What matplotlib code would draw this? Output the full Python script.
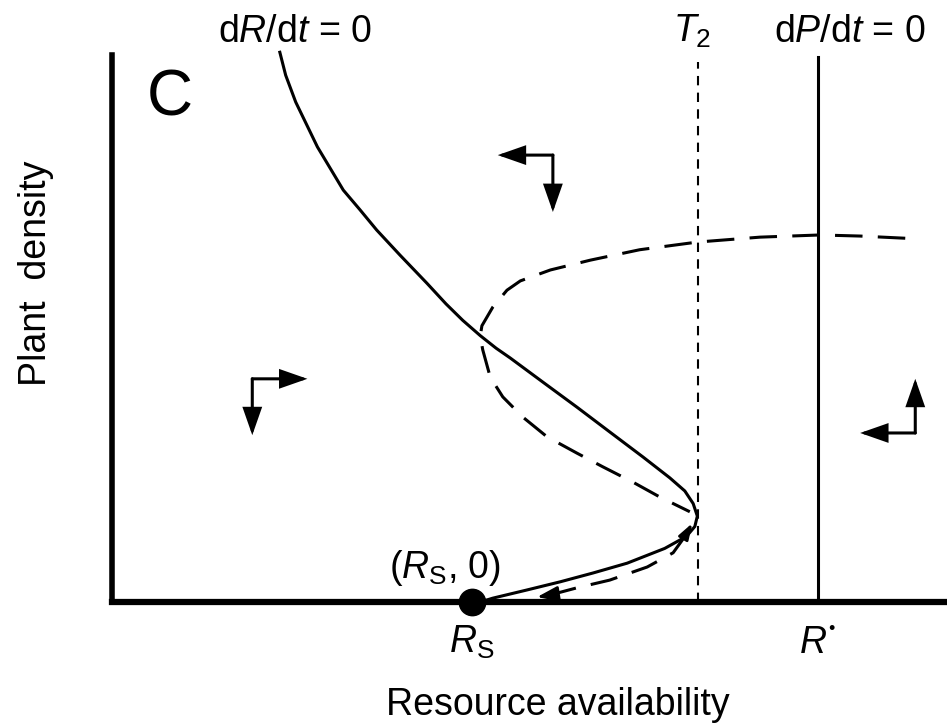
import matplotlib
matplotlib.use("Agg")
import matplotlib.pyplot as plt

plt.rcParams['font.family'] = ['Liberation Sans', 'DejaVu Sans']
plt.rcParams['mathtext.fontset'] = 'custom'
plt.rcParams['mathtext.rm'] = 'Liberation Sans'
plt.rcParams['mathtext.it'] = 'Liberation Sans:italic'

# dR/dt = 0 isocline (solid S-curve), resource vs plant density
isoR_x = [2.01, 2.08, 2.20, 2.46, 2.77, 2.97, 3.17, 3.45, 3.77, 4.00, 4.20, 4.41,
          4.60, 4.77, 5.16, 5.57, 5.96, 6.36, 6.68, 6.86, 6.96, 7.01, 6.98, 6.88,
          6.62, 6.17, 5.76, 5.37, 4.97, 4.56, 4.41]
isoR_y = [10.05, 9.63, 9.14, 8.32, 7.53, 7.17, 6.80, 6.34, 5.83, 5.45, 5.15, 4.87,
          4.64, 4.46, 4.02, 3.56, 3.11, 2.65, 2.27, 2.03, 1.80, 1.57, 1.38, 1.20,
          0.98, 0.71, 0.53, 0.37, 0.22, 0.07, 0.0]

# dashed trajectory
traj_x = [9.50, 8.96, 8.48, 7.76, 7.01, 6.32, 5.73, 5.25, 4.89, 4.73, 4.56, 4.43,
          4.41, 4.44, 4.53, 4.68, 4.92, 5.21, 5.57, 5.88, 6.24, 6.56, 6.92]
traj_y = [6.65, 6.69, 6.71, 6.67, 6.58, 6.44, 6.25, 6.07, 5.87, 5.70, 5.39, 5.05,
          4.86, 4.61, 4.11, 3.75, 3.38, 3.02, 2.72, 2.47, 2.19, 1.92, 1.65]

# lower dashed branch running back to Rs
low_x = [6.89, 6.72, 6.41, 5.96, 5.57, 5.25]
low_y = [1.26, 0.90, 0.64, 0.40, 0.26, 0.13]

Rs = 4.31
T2 = 7.02
R_star = 8.455

# direction arrows: corner, horizontal tip, vertical tip
arrow_corner = [(5.28, 8.17), (1.68, 4.08), (9.62, 3.09)]
arrow_htip = [4.62, 2.34, 8.96]
arrow_vtip = [7.13, 3.05, 4.08]

fig = plt.figure(figsize=(9.47, 7.25), dpi=100)
ax = fig.add_axes([112/947, 123/725, 835/947, 547/725])
ax.set_xlim(0, 10)
ax.set_ylim(0, 10)
for s in ['top', 'right']:
    ax.spines[s].set_visible(False)
ax.spines['left'].set_linewidth(4)
ax.spines['bottom'].set_linewidth(4.5)
ax.set_xticks([])
ax.set_yticks([])

ax.plot(isoR_x, isoR_y, color='black', lw=2.2, clip_on=False, zorder=3,
        solid_joinstyle='round')
ax.plot(traj_x, traj_y, color='black', lw=2.2, dashes=(9, 5), zorder=3)
ax.plot(low_x, low_y, color='black', lw=2.2, dashes=(9, 5), zorder=3)

# arrowheads on trajectories
ax.annotate('', xy=(5.09, 0.09), xytext=(5.30, 0.14),
            arrowprops=dict(arrowstyle='-|>,head_length=0.7,head_width=0.25', lw=2.0,
                            color='black', mutation_scale=18, shrinkA=0, shrinkB=0))
ax.annotate('', xy=(6.95, 1.44), xytext=(6.88, 1.26),
            arrowprops=dict(arrowstyle='-|>,head_length=0.6,head_width=0.2', lw=2.0,
                            color='black', mutation_scale=16, shrinkA=0, shrinkB=0))

ax.plot([T2, T2], [0, 9.87], color='black', lw=1.5, dashes=(4.5, 3.5), clip_on=False)
ax.plot([R_star, R_star], [0, 9.96], color='black', lw=2.2, clip_on=False)

ax.plot([Rs], [0], 'o', color='black', markersize=19, clip_on=False, zorder=5)

for (cx, cy), hx, vy in zip(arrow_corner, arrow_htip, arrow_vtip):
    style = dict(arrowstyle='-|>,head_length=0.8,head_width=0.28', lw=2.2,
                 color='black', mutation_scale=20, shrinkA=0, shrinkB=0,
                 joinstyle='miter')
    ax.annotate('', xy=(hx, cy), xytext=(cx, cy), arrowprops=style)
    ax.annotate('', xy=(cx, vy), xytext=(cx, cy), arrowprops=style)

fs = 27
ax.text(2.19, 10.24, r'd$R$/d$t$ = 0', fontsize=fs, ha='center', va='baseline')
ax.text(6.95, 10.24, r'$T_2$', fontsize=fs, ha='center', va='baseline')
ax.text(8.84, 10.24, r'd$P$/d$t$ = 0', fontsize=fs, ha='center', va='baseline')
ax.text(0.42, 8.90, 'C', fontsize=46, ha='left', va='baseline')
ax.text(3.99, 0.44, r'($R_\mathrm{S}$, 0)', fontsize=fs, ha='center', va='baseline')
ax.text(Rs, -0.93, r'$R_\mathrm{S}$', fontsize=fs, ha='center', va='baseline')
ax.text(R_star - 0.06, -0.93, r'$R$', fontsize=fs, ha='center', va='baseline')
ax.text(R_star + 0.16, -0.50, '\u2022', fontsize=13, ha='center', va='center')

fig.text(36/947, 1 - 273/725, 'Plant  density', fontsize=fs, rotation=90,
         ha='center', va='center')
fig.text(558/947, 10/725, 'Resource availability', fontsize=fs,
         ha='center', va='baseline')

fig.savefig('out.png', dpi=100)
